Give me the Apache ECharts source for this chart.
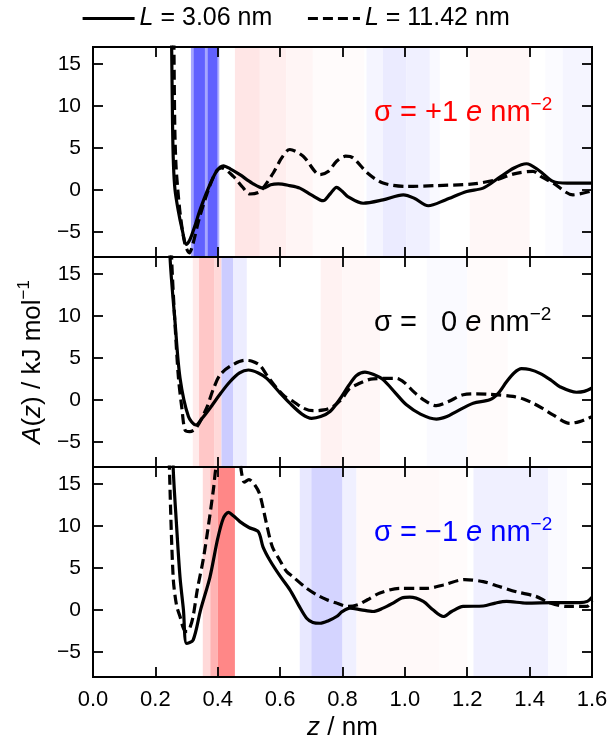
<!DOCTYPE html>
<html><head><meta charset="utf-8">
<script src="https://cdn.jsdelivr.net/npm/echarts@6/dist/echarts.min.js"></script>
<style>html,body{margin:0;padding:0;background:#fff}#c{width:611px;height:747px}</style>
</head><body><div id="c"></div>
<script>
// ---------- data ----------
const xTickValues = [0, 0.2, 0.4, 0.6, 0.8, 1.0, 1.2, 1.4, 1.6];
const yTickValues = [-5, 0, 5, 10, 15];
const seriesNames = ['L = 3.06 nm', 'L = 11.42 nm'];
const panelLabels = ['+1', '  0', '\u22121'];
const panelLabelColors = ['#ff0000', '#000000', '#0000ff'];

// sigma = +1
const p1Solid = [[0.250,25],[0.255,8],[0.258,3],[0.263,0],[0.273,-2.4],[0.284,-4.4],[0.30,-6.5],[0.31,-6.0],[0.325,-4.5],[0.343,-2.4],[0.37,0.2],[0.396,2.2],[0.418,2.85],[0.44,2.5],[0.471,1.8],[0.51,0.8],[0.546,0.2],[0.57,0.6],[0.594,0.7],[0.63,0.5],[0.663,0.2],[0.70,-0.6],[0.738,-1.3],[0.76,-0.5],[0.781,0.3],[0.80,-0.2],[0.817,-0.8],[0.866,-1.6],[0.93,-1.2],[0.995,-0.6],[1.03,-1.0],[1.075,-1.9],[1.13,-1.2],[1.198,-0.2],[1.251,0.2],[1.30,1.4],[1.35,2.6],[1.39,3.1],[1.43,2.3],[1.475,1.0],[1.52,0.8],[1.60,0.8]];
const p1Dashed = [[0.258,25],[0.262,8],[0.266,3],[0.272,0],[0.28,-3],[0.295,-6.5],[0.309,-7.5],[0.32,-6.5],[0.34,-3.5],[0.37,0],[0.395,2.2],[0.412,2.6],[0.45,1.6],[0.48,0.3],[0.503,-0.5],[0.535,-0.2],[0.578,2.0],[0.605,3.8],[0.631,4.8],[0.674,4.0],[0.728,1.8],[0.755,2.2],[0.781,3.4],[0.81,4.0],[0.834,3.8],[0.88,2.0],[0.93,0.8],[1.005,0.4],[1.10,0.5],[1.219,0.7],[1.294,1.2],[1.35,1.9],[1.411,2.2],[1.44,1.5],[1.476,0.8],[1.539,-0.6],[1.593,-0.2]];
// sigma = 0
const p2Solid = [[0.243,25],[0.247,17],[0.263,9.3],[0.279,2.6],[0.306,-2.0],[0.33,-3.0],[0.35,-2.2],[0.375,-1.0],[0.41,0.8],[0.439,2.15],[0.47,3.2],[0.498,3.55],[0.53,3.2],[0.557,2.55],[0.60,0.8],[0.631,-0.4],[0.67,-1.7],[0.701,-2.2],[0.73,-2.0],[0.76,-1.4],[0.79,0.0],[0.82,1.7],[0.845,2.9],[0.872,3.3],[0.90,3.0],[0.93,2.4],[0.97,0.8],[1.005,-0.6],[1.05,-1.7],[1.101,-2.3],[1.135,-2.0],[1.165,-1.4],[1.219,-0.4],[1.272,0.0],[1.30,0.8],[1.326,2.15],[1.35,3.2],[1.374,3.7],[1.40,3.6],[1.433,3.15],[1.47,2.3],[1.497,1.56],[1.55,0.9],[1.575,1.0],[1.60,1.4]];
const p2Dashed = [[0.248,25],[0.252,17],[0.263,9],[0.274,2.6],[0.285,-1.0],[0.295,-3.6],[0.31,-3.8],[0.33,-3.4],[0.364,-1.0],[0.385,1.2],[0.407,2.95],[0.44,4.0],[0.487,4.7],[0.51,4.6],[0.535,4.1],[0.56,2.8],[0.589,1.4],[0.615,0.4],[0.642,-0.2],[0.675,-1.0],[0.706,-1.3],[0.74,-1.2],[0.77,-0.8],[0.80,0.2],[0.819,1.2],[0.845,1.8],[0.898,2.5],[0.973,2.55],[1.0,2.0],[1.027,1.0],[1.06,0.0],[1.101,-0.7],[1.14,-0.2],[1.187,0.6],[1.23,0.7],[1.272,0.65],[1.347,0.4],[1.38,0.1],[1.411,-0.4],[1.44,-1.0],[1.475,-1.8],[1.529,-2.8],[1.56,-2.6],[1.588,-2.2],[1.60,-2.0]];
// sigma = -1
const p3Solid = [[0.253,25],[0.257,17],[0.268,10],[0.279,3.9],[0.29,0],[0.30,-4.0],[0.321,-3.6],[0.345,0],[0.375,3.9],[0.40,8.5],[0.418,10.9],[0.434,11.6],[0.45,11.2],[0.471,10.5],[0.50,9.8],[0.53,9.3],[0.545,7.5],[0.567,5.9],[0.60,4.0],[0.631,2.4],[0.66,0.5],[0.685,-1.0],[0.705,-1.5],[0.728,-1.6],[0.755,-1.3],[0.781,-0.8],[0.80,-0.2],[0.824,0.2],[0.86,0.0],[0.898,-0.2],[0.93,0.2],[0.962,0.8],[0.99,1.4],[1.016,1.5],[1.059,1.0],[1.09,0.0],[1.123,-0.8],[1.15,-0.2],[1.187,0.4],[1.251,0.45],[1.29,0.8],[1.326,1.0],[1.39,0.8],[1.475,0.85],[1.561,0.85],[1.585,1.0],[1.60,1.5]];
const p3Dashed = [[0.241,25],[0.245,17],[0.257,3.9],[0.268,0.5],[0.279,-0.8],[0.291,-2.3],[0.302,-2.6],[0.312,-2.0],[0.321,-0.8],[0.335,2.5],[0.353,5.9],[0.37,10],[0.386,14.3],[0.397,17.5],[0.42,20],[0.45,20],[0.47,18],[0.476,16.4],[0.485,15.2],[0.50,15.5],[0.52,14.8],[0.535,13.7],[0.556,10.3],[0.575,7.5],[0.599,5.9],[0.62,4.6],[0.642,3.9],[0.68,2.7],[0.717,1.8],[0.75,1.2],[0.781,0.8],[0.818,0.4],[0.85,0.6],[0.88,1.2],[0.92,2.0],[0.984,2.55],[1.07,2.55],[1.123,2.95],[1.192,3.6],[1.251,3.35],[1.30,2.8],[1.357,2.15],[1.42,1.6],[1.466,0.8],[1.519,0.4],[1.583,0.4],[1.60,1.1]];

// charge-density bands: [zStart, zEnd, signed intensity (+ red / - blue)]
const p1Bands = [[0.314,0.322,-0.35],[0.322,0.359,-0.62],[0.359,0.367,-0.35],[0.367,0.400,-0.62],[0.400,0.405,-0.3],[0.455,0.535,0.10],[0.535,0.62,0.065],[0.62,0.705,0.04],[0.705,0.87,0.015],[0.877,0.93,-0.04],[0.93,1.005,-0.08],[1.005,1.08,-0.06],[1.08,1.112,-0.025],[1.208,1.40,0.03],[1.45,1.506,-0.015],[1.506,1.60,-0.04]];
const p2Bands = [[0.32,0.34,0.08],[0.34,0.39,0.22],[0.39,0.412,0.15],[0.412,0.45,-0.2],[0.45,0.493,-0.07],[0.73,0.80,0.05],[0.80,0.92,0.03],[1.07,1.20,-0.02],[1.20,1.33,0.015]];
const p3Bands = [[0.352,0.376,0.15],[0.376,0.40,0.3],[0.40,0.455,0.47],[0.663,0.70,-0.09],[0.70,0.80,-0.17],[0.80,0.845,-0.06],[0.845,1.11,0.025],[1.11,1.20,0.015],[1.22,1.46,-0.06],[1.46,1.52,-0.02]];

const panels = [
  {solid: p1Solid, dashed: p1Dashed, bands: p1Bands},
  {solid: p2Solid, dashed: p2Dashed, bands: p2Bands},
  {solid: p3Solid, dashed: p3Dashed, bands: p3Bands}
];

// ---------- layout / style ----------
const FONT = '"Liberation Sans", Arial, sans-serif';
const GRID_LEFT = 93, GRID_W = 499, GRID_H = 210, GRID_TOPS = [47, 257, 467];
const X_MIN = 0, X_MAX = 1.6, Y_MIN = -8, Y_MAX = 17;
const LW = 3.2;

function bandColor(v) {
  const c = Math.round(255 * (1 - Math.abs(v)));
  return v >= 0 ? `rgb(255,${c},${c})` : `rgb(${c},${c},255)`;
}
const minus = v => (v < 0 ? '\u2212' + Math.abs(v) : String(v));

const grids = [], xAxes = [], yAxes = [], series = [], graphics = [];
panels.forEach((p, i) => {
  grids.push({left: GRID_LEFT, top: GRID_TOPS[i], width: GRID_W, height: GRID_H,
    show: true, borderColor: '#000', borderWidth: 2, backgroundColor: 'transparent'});
  const tick = {show: true, inside: true, length: 10, lineStyle: {color: '#000', width: 1.8}};
  const noLine = {show: false, onZero: false};
  xAxes.push({gridIndex: i, type: 'value', position: 'bottom', min: X_MIN, max: X_MAX, interval: 0.2,
    axisLine: noLine, splitLine: {show: false}, axisTick: tick,
    axisLabel: {show: i === 2, margin: 12, fontSize: 22, fontFamily: FONT, color: '#000',
      formatter: v => v.toFixed(1)},
    name: i === 2 ? '{i|z} / nm' : '', nameLocation: 'middle', nameGap: 38,
    nameTextStyle: {fontSize: 26, fontFamily: FONT, color: '#000',
      rich: {i: {fontStyle: 'italic', fontSize: 26, fontFamily: FONT, color: '#000'}}}});
  xAxes.push({gridIndex: i, type: 'value', position: 'top', min: X_MIN, max: X_MAX, interval: 0.2,
    axisLine: noLine, splitLine: {show: false}, axisTick: tick, axisLabel: {show: false}});
  yAxes.push({gridIndex: i, type: 'value', position: 'left', min: Y_MIN, max: Y_MAX,
    axisLine: noLine, splitLine: {show: false},
    axisTick: Object.assign({customValues: yTickValues}, tick),
    axisLabel: {customValues: yTickValues, margin: 12, fontSize: 21, fontFamily: FONT, color: '#000', formatter: minus},
    name: i === 1 ? '{i|A}({i|z}) / kJ mol{s|\u22121}' : '', nameLocation: 'middle', nameGap: 43, nameRotate: 90,
    nameTextStyle: {fontSize: 26, fontFamily: FONT, color: '#000',
      rich: {i: {fontStyle: 'italic', fontSize: 26, fontFamily: FONT, color: '#000'},
             s: {fontSize: 17, fontFamily: FONT, color: '#000', verticalAlign: 'top', lineHeight: 34}}}});
  yAxes.push({gridIndex: i, type: 'value', position: 'right', min: Y_MIN, max: Y_MAX,
    axisLine: noLine, splitLine: {show: false},
    axisTick: Object.assign({customValues: yTickValues}, tick),
    axisLabel: {show: false}});

  // background bands
  series.push({type: 'line', name: 'bands' + i, xAxisIndex: 2 * i, yAxisIndex: 2 * i, z: -1,
    data: [[0, -100]], symbol: 'none', silent: true, lineStyle: {opacity: 0},
    markArea: {silent: true, z: -1, data: p.bands.map(b => [
      {xAxis: b[0], itemStyle: {color: bandColor(b[2])}}, {xAxis: b[1]}])}});
  series.push({type: 'line', name: seriesNames[0], xAxisIndex: 2 * i, yAxisIndex: 2 * i, z: 3,
    data: p.solid, symbol: 'none', smooth: 0.3, clip: true,
    lineStyle: {color: '#000', width: LW, type: 'solid'}, itemStyle: {color: '#000'}});
  series.push({type: 'line', name: seriesNames[1], xAxisIndex: 2 * i, yAxisIndex: 2 * i, z: 3,
    data: p.dashed, symbol: 'none', smooth: 0.3, clip: true,
    lineStyle: {color: '#000', width: LW, type: [10, 5]}, itemStyle: {color: '#000'}});

  const col = panelLabelColors[i];
  graphics.push({type: 'text', left: 374, top: GRID_TOPS[i] + 48, z: 10,
    style: {text: `σ = ${panelLabels[i]} {i|e} nm{s|\u22122}`, fill: col, fontSize: 29, fontFamily: FONT,
      rich: {i: {fill: col, fontStyle: 'italic', fontSize: 29, fontFamily: FONT},
             s: {fill: col, fontSize: 19, fontFamily: FONT, verticalAlign: 'top', lineHeight: 36}}}});
});

const chart = echarts.init(document.getElementById('c'), null, {renderer: 'canvas'});
chart.setOption({
  animation: false,
  backgroundColor: '#fff',
  legend: {top: 1, left: 76, itemWidth: 52, itemHeight: 14, itemGap: 34,
    data: seriesNames,
    itemStyle: {opacity: 0},
    lineStyle: {width: 3.2},
    formatter: n => n.replace(/^L/, '{i|L}'),
    textStyle: {fontSize: 25, fontFamily: FONT, color: '#000',
      rich: {i: {fontStyle: 'italic', fontSize: 25, fontFamily: FONT, color: '#000'}}}},
  grid: grids, xAxis: xAxes, yAxis: yAxes, series: series, graphic: graphics
});
</script></body></html>
